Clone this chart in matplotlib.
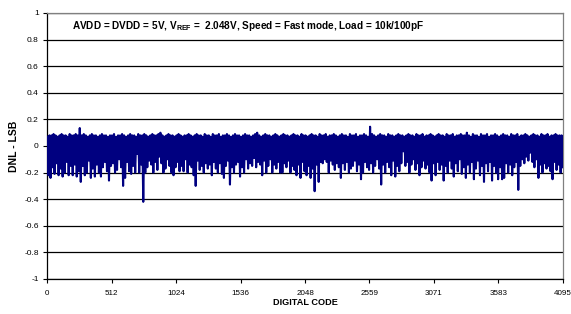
import matplotlib
matplotlib.use("Agg")
import matplotlib.pyplot as plt
import numpy as np

plt.rcParams["font.family"] = ["Liberation Sans", "DejaVu Sans"]
plt.rcParams["mathtext.fontset"] = "custom"
plt.rcParams["mathtext.bf"] = "Liberation Sans:bold"
plt.rcParams["mathtext.rm"] = "Liberation Sans:bold"

bin_size = 16
dnl_max = [
    0.07, 0.08, 0.08, 0.09, 0.08, 0.07, 0.08, 0.09, 0.08, 0.08, 0.07, 0.09, 0.08, 0.08, 0.09, 0.08,
    0.135, 0.08, 0.09, 0.08, 0.07, 0.08, 0.09, 0.08, 0.08, 0.07, 0.08, 0.09, 0.08, 0.08, 0.07, 0.08,
    0.08, 0.09, 0.07, 0.08, 0.08, 0.09, 0.08, 0.07, 0.08, 0.09, 0.08, 0.08, 0.07, 0.09, 0.08, 0.08,
    0.09, 0.08, 0.07, 0.08, 0.09, 0.08, 0.08, 0.09, 0.10, 0.08, 0.07, 0.08, 0.09, 0.08, 0.08, 0.07,
    0.08, 0.09, 0.08, 0.07, 0.08, 0.08, 0.09, 0.08, 0.07, 0.08, 0.09, 0.08, 0.08, 0.07, 0.09, 0.08,
    0.08, 0.07, 0.09, 0.08, 0.08, 0.09, 0.07, 0.08, 0.08, 0.09, 0.08, 0.07, 0.08, 0.09, 0.08, 0.08,
    0.07, 0.08, 0.09, 0.08, 0.08, 0.07, 0.08, 0.09, 0.10, 0.08, 0.07, 0.08, 0.09, 0.08, 0.08, 0.07,
    0.08, 0.09, 0.08, 0.07, 0.08, 0.09, 0.08, 0.08, 0.07, 0.08, 0.09, 0.08, 0.08, 0.07, 0.09, 0.08,
    0.08, 0.07, 0.08, 0.09, 0.08, 0.08, 0.07, 0.09, 0.08, 0.08, 0.09, 0.07, 0.08, 0.08, 0.09, 0.08,
    0.07, 0.08, 0.09, 0.08, 0.08, 0.07, 0.09, 0.08, 0.08, 0.09, 0.07, 0.08, 0.08, 0.09, 0.08, 0.07,
    0.145, 0.09, 0.08, 0.07, 0.08, 0.09, 0.08, 0.08, 0.07, 0.09, 0.08, 0.08, 0.07, 0.08, 0.09, 0.08,
    0.08, 0.07, 0.08, 0.09, 0.08, 0.08, 0.07, 0.09, 0.08, 0.08, 0.09, 0.07, 0.08, 0.08, 0.09, 0.08,
    0.07, 0.08, 0.09, 0.08, 0.08, 0.07, 0.09, 0.08, 0.08, 0.09, 0.07, 0.08, 0.08, 0.09, 0.08, 0.08,
    0.10, 0.08, 0.07, 0.09, 0.08, 0.08, 0.07, 0.09, 0.08, 0.08, 0.09, 0.07, 0.08, 0.08, 0.09, 0.08,
    0.07, 0.08, 0.09, 0.08, 0.08, 0.07, 0.09, 0.08, 0.08, 0.09, 0.07, 0.08, 0.08, 0.09, 0.08, 0.07,
    0.08, 0.09, 0.08, 0.08, 0.07, 0.09, 0.08, 0.08, 0.09, 0.07, 0.08, 0.08, 0.09, 0.08, 0.08, 0.08,
]
dnl_min = [
    -0.22, -0.24, -0.16, -0.21, -0.13, -0.22, -0.17, -0.23, -0.20, -0.12, -0.22, -0.15, -0.22, -0.14, -0.23, -0.19,
    -0.27, -0.15, -0.22, -0.20, -0.11, -0.24, -0.17, -0.23, -0.14, -0.20, -0.23, -0.16, -0.12, -0.19, -0.26, -0.15,
    -0.13, -0.20, -0.18, -0.10, -0.16, -0.30, -0.24, -0.12, -0.19, -0.21, -0.15, -0.20, -0.06, -0.20, -0.14, -0.42,
    -0.20, -0.16, -0.11, -0.14, -0.20, -0.12, -0.18, -0.08, -0.13, -0.20, -0.17, -0.10, -0.15, -0.20, -0.22, -0.16,
    -0.12, -0.19, -0.15, -0.19, -0.10, -0.20, -0.14, -0.16, -0.22, -0.30, -0.11, -0.18, -0.15, -0.20, -0.13, -0.17,
    -0.14, -0.22, -0.12, -0.17, -0.20, -0.13, -0.21, -0.24, -0.15, -0.11, -0.29, -0.16, -0.20, -0.14, -0.12, -0.23,
    -0.16, -0.20, -0.10, -0.17, -0.13, -0.15, -0.09, -0.16, -0.12, -0.14, -0.22, -0.11, -0.20, -0.15, -0.10, -0.20,
    -0.14, -0.17, -0.12, -0.20, -0.20, -0.13, -0.16, -0.11, -0.20, -0.15, -0.18, -0.22, -0.14, -0.24, -0.12, -0.19,
    -0.22, -0.15, -0.24, -0.17, -0.34, -0.14, -0.27, -0.12, -0.13, -0.10, -0.12, -0.20, -0.11, -0.14, -0.18, -0.13,
    -0.16, -0.24, -0.13, -0.18, -0.12, -0.20, -0.17, -0.15, -0.11, -0.19, -0.14, -0.25, -0.20, -0.12, -0.16, -0.18,
    -0.13, -0.20, -0.15, -0.10, -0.17, -0.29, -0.14, -0.20, -0.12, -0.16, -0.22, -0.11, -0.23, -0.15, -0.19, -0.13,
    -0.04, -0.15, -0.12, -0.20, -0.14, -0.10, -0.18, -0.13, -0.22, -0.16, -0.11, -0.17, -0.14, -0.20, -0.26, -0.13,
    -0.22, -0.12, -0.18, -0.14, -0.26, -0.15, -0.20, -0.11, -0.17, -0.23, -0.13, -0.19, -0.10, -0.21, -0.16, -0.24,
    -0.14, -0.20, -0.12, -0.25, -0.17, -0.11, -0.22, -0.15, -0.27, -0.13, -0.19, -0.12, -0.26, -0.15, -0.20, -0.25,
    -0.16, -0.25, -0.24, -0.13, -0.20, -0.14, -0.22, -0.16, -0.12, -0.33, -0.15, -0.10, -0.13, -0.08, -0.11, -0.05,
    -0.12, -0.16, -0.10, -0.24, -0.14, -0.20, -0.13, -0.17, -0.15, -0.19, -0.25, -0.12, -0.18, -0.14, -0.20, -0.16,
]
xticks = [0, 512, 1024, 1536, 2048, 2559, 3071, 3583, 4095]
yticks = [-1, -0.8, -0.6, -0.4, -0.2, 0, 0.2, 0.4, 0.6, 0.8, 1]
note = r"AVDD = DVDD = 5V, V$_{\mathbf{REF}}$ =  2.048V, Speed = Fast mode, Load = 10k/100pF"

# trace: within each bin the DNL swings from its max to its min
starts = np.arange(len(dnl_min)) * bin_size
trace_x = np.column_stack([starts + 4, starts + 12]).ravel()
trace_y = np.column_stack([dnl_max, dnl_min]).ravel()

fig = plt.figure(figsize=(5.71, 3.14), dpi=100)
ax = fig.add_axes([0.0823, 0.1115, 0.9037, 0.8471])

ax.plot(trace_x, trace_y, color="#000080", lw=1.5, zorder=3)

ax.set_xlim(0, 4095)
ax.set_ylim(-1, 1)
ax.set_xticks(xticks)
ax.set_xticklabels([str(t) for t in xticks])
ax.set_yticks(yticks)
ax.set_yticklabels([f"{t:g}" for t in yticks])
ax.grid(axis="y", color="black", lw=0.9, zorder=1)
ax.set_axisbelow(True)

ax.tick_params(axis="both", labelsize=6.0, length=3, width=0.8, color="black", pad=3)
ax.tick_params(axis="x", pad=5, labelsize=5.8)
for side in ("left", "bottom"):
    ax.spines[side].set_color("black")
    ax.spines[side].set_linewidth(0.9)
for side in ("top", "right"):
    ax.spines[side].set_color("#808080")
    ax.spines[side].set_linewidth(0.9)

ax.set_xlabel("DIGITAL CODE", fontsize=6.6, fontweight="bold", labelpad=1)
ax.set_ylabel("DNL - LSB", fontsize=7.5, fontweight="bold", labelpad=4)
ax.text(0.048, 0.951, note, transform=ax.transAxes, fontsize=7.2, fontweight="bold",
        va="center", ha="left")

fig.savefig("out.png", dpi=100)
